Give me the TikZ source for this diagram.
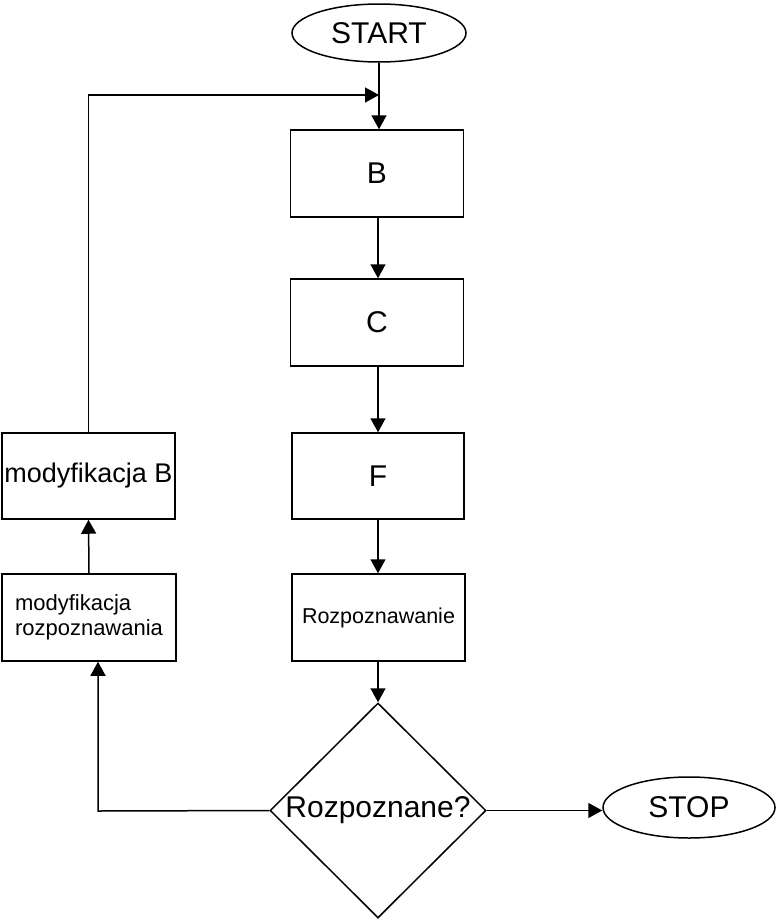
\documentclass[tikz,border=0pt]{standalone}
\usepackage{fontspec}
\setmainfont{Liberation Sans}
\usetikzlibrary{shapes.geometric,arrows.meta}
\begin{document}
\begin{tikzpicture}[x=1pt,y=-1pt,
  every node/.style={font=\fontsize{30}{34}\selectfont},
  conn/.style={line width=1.5pt,-{Triangle[length=14pt,width=15pt]}},
  stepbox/.style={draw,line width=1.5pt,rectangle,inner sep=0pt,minimum width=173pt,minimum height=87pt},
  term/.style={draw,line width=1.5pt,ellipse,inner sep=0pt,minimum width=174pt,minimum height=58pt},
  decide/.style={draw,line width=1.5pt,diamond,inner sep=0pt,minimum width=216pt,minimum height=215pt}]
\useasboundingbox (0,0) rectangle (777,921);
\node[term] (start) at (379,33) {START};
\node[stepbox] (B) at (377,173.5) {B};
\node[stepbox] (C) at (377,322.5) {C};
\node[stepbox,minimum width=172pt,minimum height=86pt] (F) at (378,476) {F};
\node[stepbox,font=\fontsize{21.5}{25}\selectfont] (R) at (378.5,617.5) {Rozpoznawanie};
\node[decide] (D) at (378,810.5) {Rozpoznane?};
\node[term,minimum width=172pt,minimum height=61pt] (stop) at (689,807.5) {STOP};
\node[stepbox,minimum height=86pt,font=\fontsize{27}{30}\selectfont] (mB) at (88.5,476) {modyfikacja B};
\node[stepbox,minimum width=174pt,align=left,font=\fontsize{22}{25}\selectfont] (mR) at (89,617.5) {modyfikacja\\rozpoznawania};
\coordinate (J) at (379,95);
\coordinate (L) at (98,811);
\draw[conn] (start.south) -- (B.north -| start.south);
\draw[conn] (mB.north) |- (J);
\draw[conn] (B.south -| F.north) -- (C.north -| F.north);
\draw[conn] (C.south -| F.north) -- (F.north);
\draw[conn] (F.south) -- (R.north -| F.south);
\draw[conn] (R.south -| D.north) -- (D.north);
\draw[conn] (D.east) -- (stop.west |- D.east);
\draw[conn] (D.west) -- (L) -- (L |- mR.south);
\draw[conn] (mR.north) -- (mB.south);
\end{tikzpicture}
\end{document}
